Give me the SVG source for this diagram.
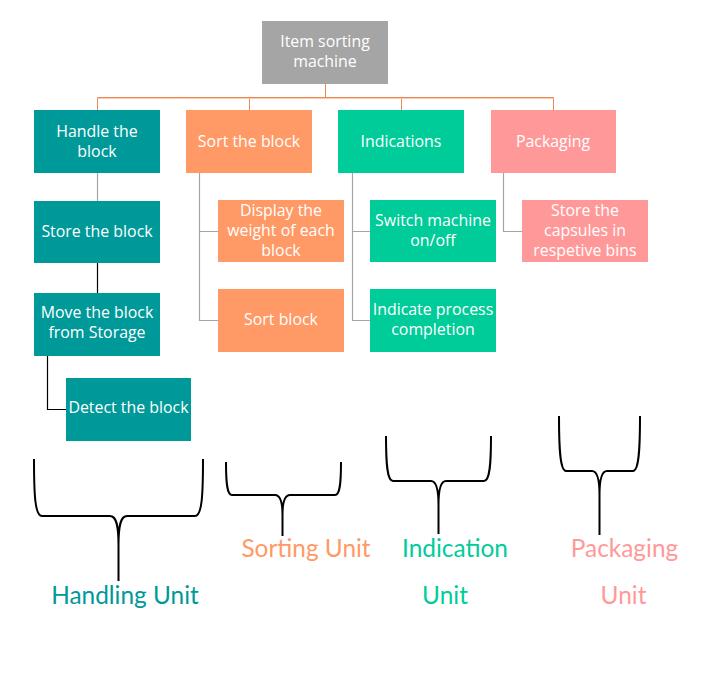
<svg xmlns="http://www.w3.org/2000/svg" width="701" height="680" viewBox="0 0 701 680">
<style>
.t{font-family:"Open Sans","DejaVu Sans",sans-serif;font-size:15.9px;fill:#ffffff;text-anchor:middle}
.u{font-family:Lato,"Open Sans",sans-serif;font-size:24.4px;text-anchor:middle}
.teal{fill:#009999}.org{fill:#FF9966}.grn{fill:#00CC99}.pnk{fill:#FF9999}.gry{fill:#A5A5A5}
.c1{stroke:#ED8A52;stroke-width:1;fill:none}
.c2{stroke:#A5A5A5;stroke-width:1.2;fill:none}
.c3{stroke:#000000;stroke-width:1.2;fill:none}
.br{stroke:#000000;stroke-width:2;fill:none}
</style>
<rect width="701" height="680" fill="#ffffff"/>
<g id="connectors">
<path class="c1" d="M325.5 83V97.5M97.5 97.5H553.5M97.5 97.5V110M249.5 97.5V110M401.5 97.5V110M553.5 97.5V110"/>
<path d="M97.5 98.5H553.5" stroke="#F7C9AC" stroke-width="1" fill="none"/>
<path class="c2" d="M97.5 173V201"/>
<path class="c3" d="M97.5 263V293"/>
<path class="c3" d="M47.5 356V409.5H66"/>
<path class="c2" d="M199.5 173V320.5H218M199.5 231.5H218"/>
<path class="c2" d="M352.5 173V320.5H370M352.5 231.5H370"/>
<path class="c2" d="M503.5 173V231.5H522"/>
</g>
<g id="n-root"><rect class="gry" x="262" y="21" width="126" height="63"/><text class="t" x="325" y="47">Item sorting</text><text class="t" x="325" y="67">machine</text></g>
<g id="n-handle"><rect class="teal" x="34" y="110" width="126" height="63"/><text class="t" x="97" y="137">Handle the</text><text class="t" x="97" y="157">block</text></g>
<g id="n-sort"><rect class="org" x="186" y="110" width="126" height="63"/><text class="t" x="249" y="147">Sort the block</text></g>
<g id="n-ind"><rect class="grn" x="338" y="110" width="126" height="63"/><text class="t" x="401" y="147">Indications</text></g>
<g id="n-pack"><rect class="pnk" x="491" y="110" width="125" height="63"/><text class="t" x="553" y="147">Packaging</text></g>
<g id="n-store"><rect class="teal" x="34" y="201" width="126" height="62"/><text class="t" x="97" y="237">Store the block</text></g>
<g id="n-move"><rect class="teal" x="34" y="293" width="126" height="63"/><text class="t" x="97" y="318">Move the block</text><text class="t" x="97" y="338">from Storage</text></g>
<g id="n-detect"><rect class="teal" x="66" y="378" width="125" height="63"/><text class="t" x="128.5" y="413">Detect the block</text></g>
<g id="n-display"><rect class="org" x="218" y="200" width="126" height="62"/><text class="t" x="281" y="216">Display the</text><text class="t" x="281" y="236">weight of each</text><text class="t" x="281" y="256">block</text></g>
<g id="n-sortblock"><rect class="org" x="218" y="289" width="126" height="63"/><text class="t" x="281" y="325">Sort block</text></g>
<g id="n-switch"><rect class="grn" x="370" y="200" width="126" height="62"/><text class="t" x="433" y="226">Switch machine</text><text class="t" x="433" y="246">on/off</text></g>
<g id="n-indicate"><rect class="grn" x="370" y="289" width="126" height="63"/><text class="t" x="433" y="315">Indicate process</text><text class="t" x="433" y="335">completion</text></g>
<g id="n-capsules"><rect class="pnk" x="522" y="200" width="126" height="62"/><text class="t" x="585" y="216">Store the</text><text class="t" x="585" y="236">capsules in</text><text class="t" x="585" y="256">respetive bins</text></g>
<g id="braces">
<path class="br" d="M34 459C34 495 35 516 42 516L110 516C116 516 118.5 524 118.5 545L118.5 581M118.5 545C118.5 524 121 516 127 516L195 516C202 516 203 495 203 459"/>
<path class="br" d="M226 462C226 483 227 495 232 495L275 495C280 495 282.5 502 282.5 515L282.5 536M282.5 515C282.5 502 285 495 290 495L335 495C340 495 341 483 341 462"/>
<path class="br" d="M386 436C386 463 387 481 393 481L431 481C436 481 438.5 490 438.5 505L438.5 534M438.5 505C438.5 490 441 481 446 481L484 481C490 481 491 463 491 436"/>
<path class="br" d="M559 416C559 448 560 471 566 471L592 471C597 471 599.5 480 599.5 495L599.5 535M599.5 495C599.5 480 602 471 607 471L633 471C639 471 640 448 640 416"/>
</g>
<g id="labels">
<text class="u teal" x="125" y="604">Handling Unit</text>
<text class="u org" x="306" y="557">Sorting Unit</text>
<text class="u grn" x="455" y="557">Indication</text>
<text class="u grn" x="445" y="604">Unit</text>
<text class="u pnk" x="624.5" y="557">Packaging</text>
<text class="u pnk" x="623.5" y="604">Unit</text>
</g>
</svg>
